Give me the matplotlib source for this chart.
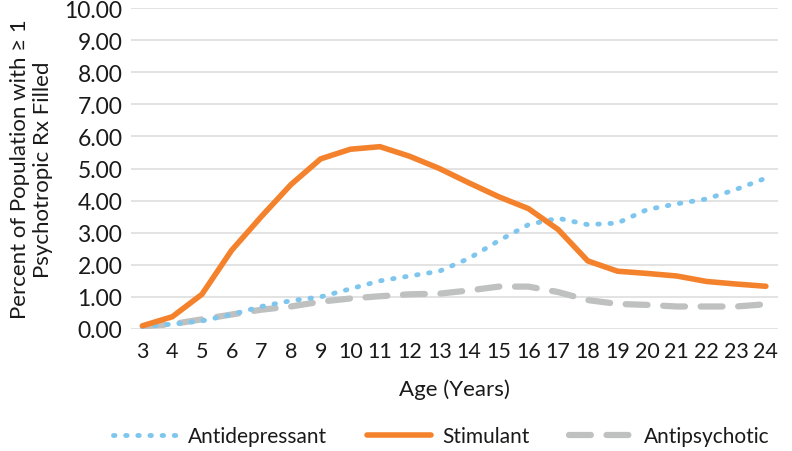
import numpy as np
import matplotlib
matplotlib.use("Agg")
import matplotlib.pyplot as plt

plt.rcParams['font.family'] = ['Lato', 'DejaVu Sans']

ages = list(range(3, 25))
antidepressant = [0.08, 0.15, 0.25, 0.45, 0.70, 0.88, 1.00, 1.25, 1.50, 1.65, 1.80, 2.20,
                  2.75, 3.25, 3.45, 3.25, 3.30, 3.72, 3.90, 4.05, 4.35, 4.70]
stimulant = [0.10, 0.38, 1.08, 2.45, 3.50, 4.50, 5.30, 5.60, 5.68, 5.38, 5.00, 4.55,
             4.12, 3.75, 3.10, 2.12, 1.80, 1.73, 1.65, 1.48, 1.40, 1.33]
antipsychotic = [0.08, 0.15, 0.30, 0.45, 0.60, 0.70, 0.85, 0.95, 1.02, 1.08, 1.10, 1.20,
                 1.32, 1.32, 1.15, 0.90, 0.78, 0.75, 0.70, 0.70, 0.70, 0.77]
yticks = np.arange(0, 11, 1)

fig = plt.figure(figsize=(7.92, 4.52), dpi=100)
ax = fig.add_axes([0.165, 0.27, 0.817, 0.71])

ax.plot(ages, antidepressant, color='#7fc6ef', lw=3.5, linestyle=(0, (0.3, 2.2)),
        dash_capstyle='round', solid_capstyle='round', label='Antidepressant', zorder=3)
ax.plot(ages, stimulant, color='#f4822d', lw=4, solid_capstyle='round',
        label='Stimulant', zorder=4)
ax.plot(ages, antipsychotic, color='#bfc1c1', lw=4.5, linestyle=(0, (3.5, 2.5)),
        dash_capstyle='round', label='Antipsychotic', zorder=2)

ax.set_xlim(2.6, 24.4)
ax.set_ylim(0, 10)
ax.set_yticks(yticks)
ax.set_yticklabels(['%.2f' % v for v in yticks])
ax.set_xticks(ages)
ax.grid(axis='y', color='#e0e0e0', lw=1.3)
ax.set_axisbelow(True)
for s in ax.spines.values():
    s.set_visible(False)
ax.tick_params(length=0, colors='#1a1a1a')
ax.tick_params(axis='y', labelsize=16.5, pad=6)
ax.tick_params(axis='x', labelsize=15.5, pad=9)

ax.set_xlabel('Age (Years)', fontsize=16, color='#1a1a1a', labelpad=12)
ax.set_ylabel('Percent of Population with \u2265 1\nPsychotropic Rx Filled',
              fontsize=16, color='#1a1a1a', labelpad=8, linespacing=1.2)

ax.legend(loc='upper center', bbox_to_anchor=(0.48, -0.245), ncol=3, frameon=False,
          fontsize=15, handlelength=3.1, columnspacing=1.9, handletextpad=0.5,
          labelcolor='#1a1a1a')

fig.savefig('out.png', dpi=100)
